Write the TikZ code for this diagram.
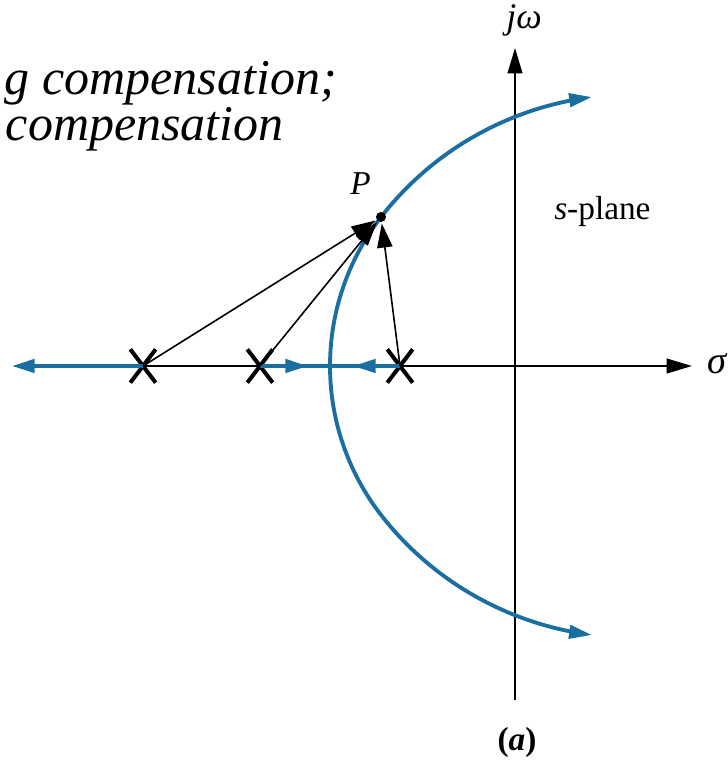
\documentclass[tikz,border=0pt]{standalone}
\usepackage{fontspec}
\setmainfont{Liberation Serif}
\usetikzlibrary{arrows.meta,shapes.misc}
\definecolor{locusblue}{RGB}{27,111,160}
\begin{document}
\begin{tikzpicture}[x=0.75pt, y=-0.75pt,
    declare function={lrad(\t)=243+0.0085*(max(0,abs(\t-180)-38))^2;},
    axis/.style={line width=1.5pt, -{Triangle[length=19pt, width=11pt]}},
    vec/.style={line width=1.2pt, -{Triangle[length=18pt, width=11.5pt]}, shorten >=1pt},
    locus/.style={locusblue, line width=2.9pt},
    ltip/.style={-{Triangle[length=17pt, width=10pt]}},
    pole/.style={cross out, draw, line width=3pt, minimum width=16pt, minimum height=22pt, inner sep=0pt},
    lbl/.style={inner sep=0pt, font=\fontsize{25}{30}\selectfont},
    title/.style={inner sep=0pt, anchor=base east, font=\itshape\fontsize{37.5}{44}\selectfont}]
    \clip (0,0) rectangle (728,761);
    % axes
    \coordinate (rl) at (20,366);
    \coordinate (rr) at (692,366);
    \coordinate (id) at (515,700);
    \coordinate (iu) at (515,48);
    \draw[axis] (rl) -- (rr);
    \draw[axis] (id) -- (iu);
    % open-loop poles
    \foreach \i/\x in {1/143,2/260,3/400} {
        \node[pole] (x\i) at (\x,366) {};
    }
    % root locus
    \coordinate (lend) at (12,366);
    \coordinate (m2) at (308,366);
    \coordinate (m3) at (353,366);
    \draw[locus, ltip] (x1.center) -- (lend);
    \draw[locus] (x2.center) -- (x3.center);
    \draw[locus, ltip] (x2.center) -- (m2);
    \draw[locus, ltip] (x3.center) -- (m3);
    \draw[locus, ltip] plot[domain=180:86, samples=70] ({573+lrad(\x)*cos(\x)}, {366-lrad(\x)*sin(\x)});
    \draw[locus, ltip] plot[domain=180:274, samples=70] ({573+lrad(\x)*cos(\x)}, {366-lrad(\x)*sin(\x)});
    % test point
    \node[circle, fill=black, inner sep=0pt, minimum size=7.5pt] (P) at (381,217) {};
    \foreach \i in {1,2,3} {
        \draw[vec] (x\i.center) -- (P);
    }
    % labels
    \node[lbl, anchor=base west] (Plbl) at (350,194) {\itshape P};
    \node[lbl, anchor=base west, font=\fontsize{29}{34}\selectfont] (sig) at (707,373) {\itshape σ};
    \node[lbl, anchor=base west, font=\fontsize{27}{32}\selectfont] (jw) at (506,28) {\itshape jω};
    \node[lbl, anchor=base west] (spl) at (554,219) {\textit{s}-plane};
    \node[lbl, anchor=base] (cap) at (517,750) {\textbf{(\textit{a})}};
    \node[title] (t1) at (337,94) {g compensation;};
    \node[title] (t2) at (284,140) {compensation};
\end{tikzpicture}
\end{document}
